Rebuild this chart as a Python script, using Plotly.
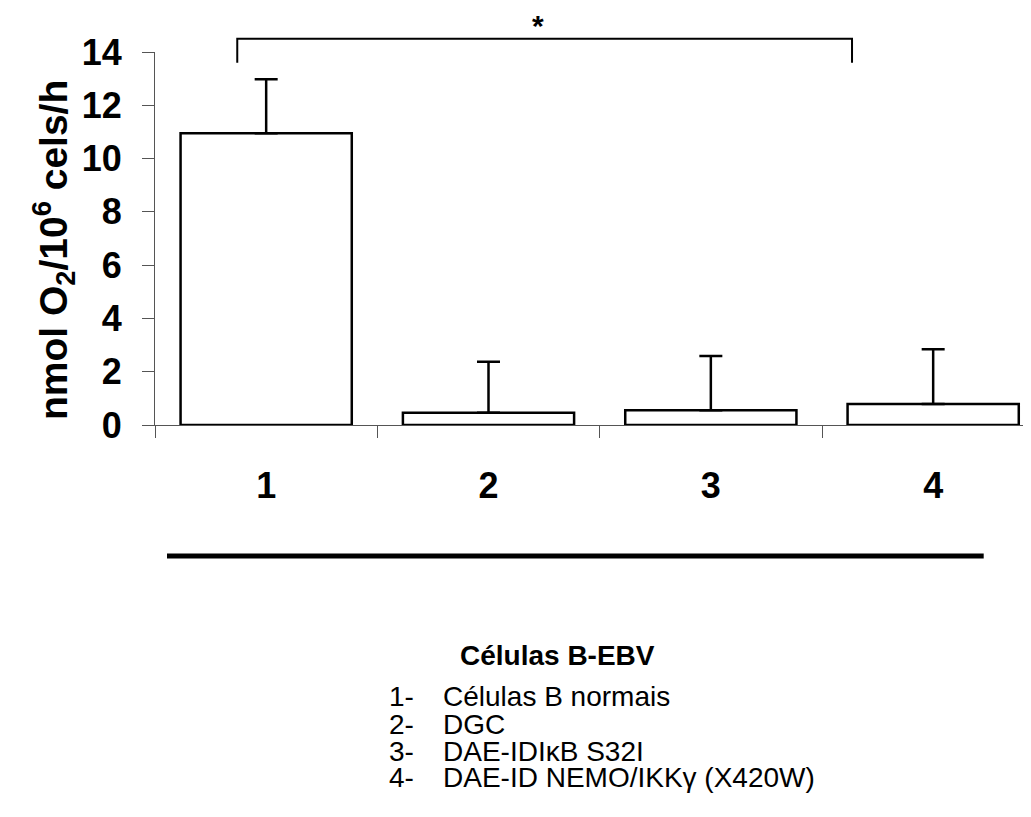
import plotly.graph_objects as go

categories = ["1", "2", "3", "4"]
values = [10.95, 0.46, 0.55, 0.79]
errors_up = [2.03, 1.91, 2.04, 2.05]
y_max = 14
y_ticks = [0, 2, 4, 6, 8, 10, 12, 14]
y_title = "<b>nmol O<sub>2</sub>/10<sup>6</sup> cels/h</b>"
x_title = "<b>Células B-EBV</b>"
legend_nums = ["1-", "2-", "3-", "4-"]
legend_texts = ["Células B normais", "DGC", "DAE-IDIκB S32I", "DAE-ID NEMO/IKKγ (X420W)"]
significance = "*"
sig_level = 14.5
sig_drop = 13.6
asterisk_level = 15.0

FONT = "Liberation Sans, Arial, sans-serif"

fig = go.Figure()
fig.add_trace(go.Bar(
    x=categories, y=values, width=0.77,
    marker=dict(color="white", line=dict(color="black", width=2.5)),
    error_y=dict(type="data", array=errors_up, arrayminus=[0] * len(values),
                 symmetric=False, color="black", thickness=2.5, width=11.5),
    showlegend=False,
))

# page body adds an 8px offset; compensate so the plot lands where intended
fig.update_layout(
    width=1023, height=809,
    margin=dict(l=147, r=0, t=44, b=392),
    plot_bgcolor="white", paper_bgcolor="white",
    font=dict(family=FONT, color="black"),
)
fig.update_xaxes(
    type="category", range=[-0.5, 3.44],
    showline=True, linecolor="#555", linewidth=1,
    ticks="outside", ticklen=12, tickcolor="#555", tickwidth=1,
    tickson="boundaries",
    tickfont=dict(family=FONT, size=36, weight="bold", color="black"),
    ticklabelstandoff=29,
    showgrid=False, zeroline=False, fixedrange=True,
)
fig.update_yaxes(
    range=[0, y_max], tickvals=y_ticks,
    showline=True, linecolor="#555", linewidth=1,
    ticks="outside", ticklen=12, tickcolor="#555", tickwidth=1,
    tickfont=dict(family=FONT, size=36, weight="bold", color="black"),
    ticklabelstandoff=13,
    showgrid=False, zeroline=False, fixedrange=True,
)

# y-axis title
fig.add_annotation(text=y_title, textangle=-90, xref="paper", yref="paper",
                   x=-0.116, y=0.47, xanchor="center", yanchor="middle",
                   showarrow=False, font=dict(family=FONT, size=39, color="black"))

# significance bracket between group 1 and group 4
left = 0 - 0.13
right = 3 - 0.365
fig.add_shape(type="path", xref="x", yref="paper",
              path=f"M {left},{sig_drop / y_max} L {left},{sig_level / y_max} "
                   f"L {right},{sig_level / y_max} L {right},{sig_drop / y_max}",
              line=dict(color="black", width=2))
fig.add_annotation(text=f"<b>{significance}</b>", xref="x", yref="paper",
                   x=1.223, y=asterisk_level / y_max, showarrow=False,
                   xanchor="center", yanchor="middle",
                   font=dict(family=FONT, size=30, color="black"))

# thick line below the categories
fig.add_shape(type="line", xref="paper", yref="paper",
              x0=0.0137, x1=0.946, y0=-0.351, y1=-0.351,
              line=dict(color="black", width=5))

fig.add_annotation(text=x_title, xref="paper", yref="paper", x=0.459, y=-0.617,
                   xanchor="center", yanchor="middle", showarrow=False,
                   font=dict(family=FONT, size=28, color="black"))

legend_y = [-0.729, -0.802, -0.874, -0.946]
for num, txt, yy in zip(legend_nums, legend_texts, legend_y):
    fig.add_annotation(text=num, xref="paper", yref="paper", x=0.265, y=yy,
                       xanchor="left", yanchor="middle", showarrow=False,
                       font=dict(family=FONT, size=28, color="black"))
    fig.add_annotation(text=txt, xref="paper", yref="paper", x=0.3265, y=yy,
                       xanchor="left", yanchor="middle", showarrow=False,
                       font=dict(family=FONT, size=28, color="black"))

fig.write_html("out.html")
